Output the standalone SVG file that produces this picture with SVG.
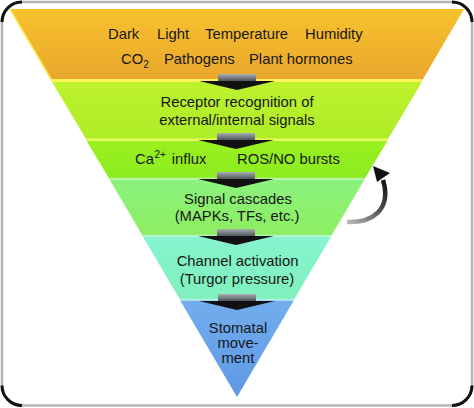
<svg xmlns="http://www.w3.org/2000/svg" width="474" height="408" viewBox="0 0 474 408">
<defs>
<linearGradient id="gOrange" x1="0" y1="0" x2="0" y2="1"><stop offset="0" stop-color="#F8C22E"/><stop offset="1" stop-color="#E9A62C"/></linearGradient>
<linearGradient id="gLime" x1="0" y1="0" x2="0" y2="1"><stop offset="0" stop-color="#BDF22E"/><stop offset="1" stop-color="#AEEC28"/></linearGradient>
<linearGradient id="gGreen" x1="0" y1="0" x2="0" y2="1"><stop offset="0" stop-color="#9AF01E"/><stop offset="1" stop-color="#8CEC22"/></linearGradient>
<linearGradient id="gLight" x1="0" y1="0" x2="0" y2="1"><stop offset="0" stop-color="#8AF27E"/><stop offset="1" stop-color="#8EEE60"/></linearGradient>
<linearGradient id="gMint" x1="0" y1="0" x2="0" y2="1"><stop offset="0" stop-color="#86F4CE"/><stop offset="1" stop-color="#80F0BC"/></linearGradient>
<linearGradient id="gBlue" x1="0" y1="0" x2="0" y2="1"><stop offset="0" stop-color="#72ADEE"/><stop offset="1" stop-color="#5E98E4"/></linearGradient>
<linearGradient id="gShaft" x1="0" y1="0" x2="0" y2="1"><stop offset="0" stop-color="#A8B0B4"/><stop offset="1" stop-color="#4E5458"/></linearGradient>
<linearGradient id="gCurve" gradientUnits="userSpaceOnUse" x1="347" y1="222" x2="382" y2="178"><stop offset="0" stop-color="#B8B8B8"/><stop offset="0.5" stop-color="#555"/><stop offset="1" stop-color="#111"/></linearGradient>
<symbol id="arrowDown" overflow="visible">
<rect x="-19" y="-7" width="38" height="7" fill="url(#gShaft)"/>
<polygon points="-38,0 38,0 0,9" fill="#111"/>
</symbol>
</defs>
<style>
text{font-family:"Liberation Sans",Arial,sans-serif;font-size:14.8px;fill:#161616}
.c{text-anchor:middle}
.sm{font-size:10px}
</style>
<rect x="0" y="0" width="474" height="408" fill="#ffffff"/>
<g id="frame">
<rect x="2" y="2" width="470" height="403.5" rx="20" ry="20" fill="#ffffff" stroke="#b4b4b4" stroke-width="2.5"/>
<path d="M2 22 A20 20 0 0 1 22 2 M452 2 A20 20 0 0 1 472 22 M472 385.5 A20 20 0 0 1 452 405.5 M22 405.5 A20 20 0 0 1 2 385.5" fill="none" stroke="#111" stroke-width="3"/>
</g>
<g id="node-stimuli">
<polygon points="10,9 464,9 421.9,81 52.1,81" fill="url(#gOrange)"/>
<line x1="10" y1="9" x2="52.1" y2="81" stroke="#FFE84A" stroke-width="1.5"/>
<line x1="52" y1="80.5" x2="422" y2="80.5" stroke="#FFF25A" stroke-width="3"/>
<text x="108" y="39">Dark</text>
<text x="157" y="39">Light</text>
<text x="205" y="39">Temperature</text>
<text x="305" y="39">Humidity</text>
<text x="121" y="64">CO<tspan class="sm" dy="4">2</tspan></text>
<text x="164" y="64">Pathogens</text>
<text x="249" y="64">Plant hormones</text>
</g>
<g id="node-receptor">
<polygon points="52.1,82 421.9,82 387.4,140 86.6,140" fill="url(#gLime)"/>
<line x1="86" y1="139.5" x2="388" y2="139.5" stroke="#E6F850" stroke-width="2.5"/>
<text class="c" x="237" y="107">Receptor recognition of</text>
<text class="c" x="237" y="125">external/internal signals</text>
</g>
<g id="node-influx">
<polygon points="86.6,141 387.4,141 364.5,179 109.5,179" fill="url(#gGreen)"/>
<line x1="110" y1="178.5" x2="364" y2="178.5" stroke="#B8F0A0" stroke-width="1.5"/>
<text x="135" y="164">Ca<tspan class="sm" dx="0.5" dy="-6">2+</tspan><tspan dx="6" dy="6">influx</tspan></text>
<text x="237" y="164">ROS/NO bursts</text>
</g>
<g id="node-cascades">
<polygon points="109.5,179.5 364.5,179.5 331.2,236 142.8,236" fill="url(#gLight)"/>
<line x1="143" y1="235.5" x2="331" y2="235.5" stroke="#B0F4B8" stroke-width="1.5"/>
<text class="c" x="238" y="204">Signal cascades</text>
<text class="c" x="237" y="221">(MAPKs, TFs, etc.)</text>
</g>
<g id="node-channel">
<polygon points="142.8,236.5 331.2,236.5 293.8,300 180.2,300" fill="url(#gMint)"/>
<line x1="180" y1="299.5" x2="294" y2="299.5" stroke="#A8F2E4" stroke-width="1.5"/>
<text class="c" x="237.5" y="266">Channel activation</text>
<text class="c" x="237" y="284">(Turgor pressure)</text>
</g>
<g id="node-stomatal">
<polygon points="180.2,300.5 293.8,300.5 237,397" fill="url(#gBlue)"/>
<text class="c" x="238" y="333">Stomatal</text>
<text class="c" x="238" y="348">move-</text>
<text class="c" x="238" y="363">ment</text>
</g>
<g id="connectors">
<use href="#arrowDown" x="237" y="81"/>
<use href="#arrowDown" x="236" y="140"/>
<use href="#arrowDown" x="236" y="179"/>
<use href="#arrowDown" x="236" y="236"/>
<use href="#arrowDown" x="237" y="301"/>
<path d="M347 222 C372 223 392 210 383 180" fill="none" stroke="url(#gCurve)" stroke-width="4.5"/>
<polygon points="373,166 390,173 377,182" fill="#111"/>
</g>
</svg>
